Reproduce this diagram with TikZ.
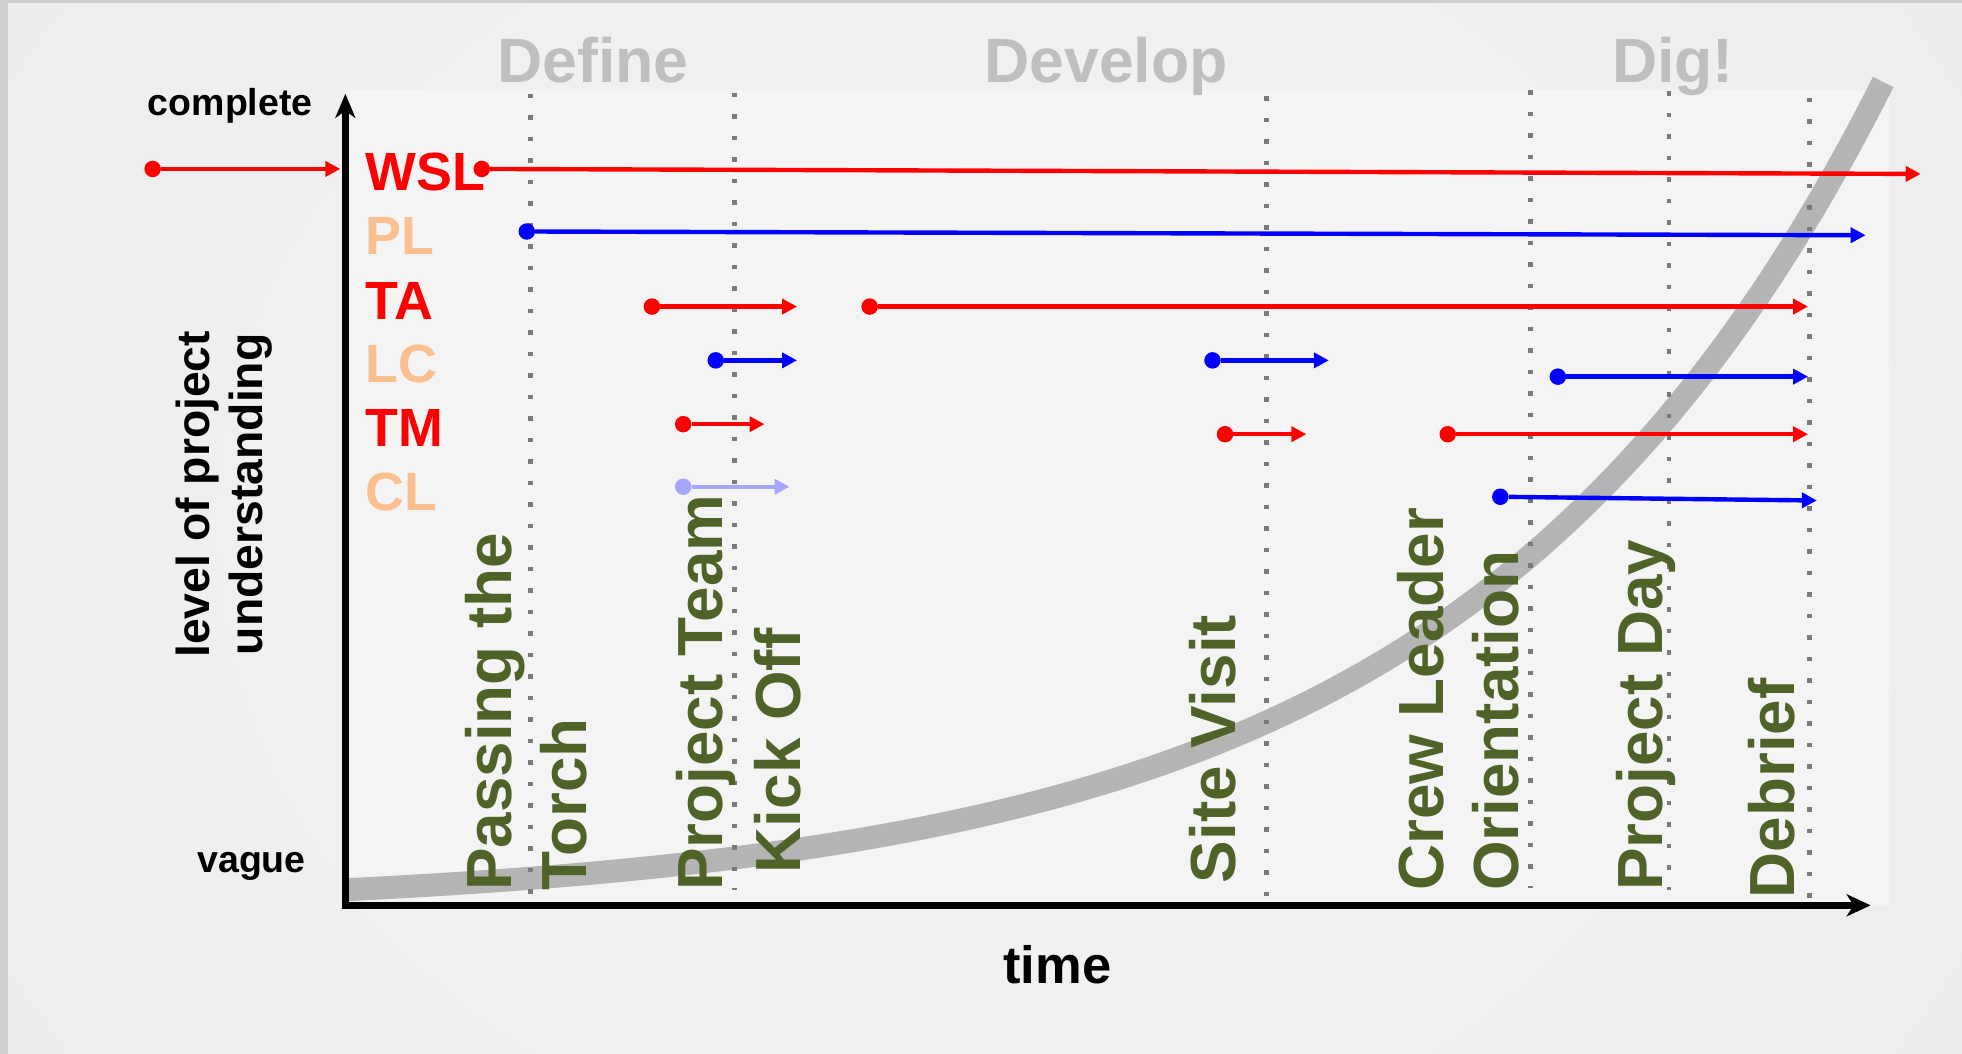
\documentclass[tikz,border=0pt]{standalone}
\usepackage{fontspec}
\setmainfont{Liberation Sans}
\usetikzlibrary{arrows.meta}
\definecolor{pred}{RGB}{255,0,0}
\definecolor{pblue}{RGB}{0,0,255}
\definecolor{plight}{RGB}{166,166,255}
\definecolor{peach}{RGB}{250,192,144}
\definecolor{evgreen}{RGB}{79,98,40}
\definecolor{phasegray}{RGB}{191,191,191}
\definecolor{guidegray}{RGB}{122,122,122}
\definecolor{curvegray}{RGB}{180,180,180}
\definecolor{bgouter}{RGB}{236,236,236}
\definecolor{bginner}{RGB}{244,244,244}
\definecolor{bgchart}{RGB}{244,244,244}
\definecolor{bgframe}{RGB}{207,207,207}
\newcommand\myfs[2]{\fontsize{#1}{#2}\selectfont\bfseries}
\begin{document}
\begin{tikzpicture}[x=1.2513pt,y=-1.2513pt,
  rowlbl/.style={anchor=base west, inner sep=0pt, font=\myfs{53.8pt}{60pt}},
  phase/.style={anchor=base, inner sep=0pt, text=phasegray, font=\myfs{62.6pt}{70pt}},
  evt/.style={rotate=90, anchor=base west, inner sep=0pt, text=evgreen, font=\myfs{63.8pt}{70pt}},
  axlbl/.style={anchor=base, inner sep=0pt, font=\myfs{37.5pt}{42pt}},
  guide/.style={draw=guidegray, line width=4.5pt, dash pattern=on 4.5pt off 17pt},
  dotnode/.style={circle, inner sep=0pt, minimum size=16.5pt},
  reddot/.style={dotnode, fill=pred},
  bluedot/.style={dotnode, fill=pblue},
  lightdot/.style={dotnode, fill=plight},
  arr/.style={line width=4.4pt, -{Triangle[length=15pt,width=15pt]}},
  redarr/.style={arr, draw=pred, fill=pred},
  bluearr/.style={arr, draw=pblue, fill=pblue},
  lightarr/.style={arr, draw=plight, fill=plight},
  axis/.style={draw=black, line width=7pt, line join=miter,
    {Stealth[length=24pt,width=20pt,inset=7pt]}-{Stealth[length=24pt,width=22pt,inset=7pt]}},
  curve/.style={draw=curvegray, line width=23pt, line cap=butt}
]
% background
\useasboundingbox (0,0) rectangle (1568,842);
\fill[bgouter] (0,0) rectangle (1568,842);
\shade[inner color=bginner, outer color=bgouter] (-300,-500) rectangle (1868,1342);
\fill[bgchart] (276,72) rectangle (1510,724);
\fill[bgframe] (0,0) rectangle (6.4,842);
\fill[bgframe] (0,0) rectangle (1568,2.4);

% knowledge curve
\draw[curve] plot[domain=278:1505, samples=150, smooth] (\x, {711-16.56*(exp(0.003*(\x-278))-1)});

% guide lines
\coordinate (g1t) at (424,75);  \coordinate (g1b) at (424,727);
\coordinate (g2t) at (587,74);  \coordinate (g2b) at (587,711);
\coordinate (g3t) at (1012,77); \coordinate (g3b) at (1012,728);
\coordinate (g4t) at (1223,72); \coordinate (g4b) at (1223,710);
\coordinate (g5t) at (1334,73); \coordinate (g5b) at (1334,711);
\coordinate (g6t) at (1446,78); \coordinate (g6b) at (1446,730);
\foreach \g in {1,...,6} \draw[guide] (g\g t) -- (g\g b);

% phase titles
\node[phase] (tdefine) at (474,66) {Define};
\node[phase] (tdevelop) at (884,66) {Develop};
\node[phase] (tdig) at (1337,66) {Dig!};

% event labels
\node[evt] (e1a) at (408.5,712) {Passing the};
\node[evt] (e1b) at (468.5,712) {Torch};
\node[evt] (e2a) at (577.5,712) {Project Team};
\node[evt] (e2b) at (640,698) {Kick Off};
\node[evt] (e3) at (987,706) {Site Visit};
\node[evt] (e4a) at (1153.5,712) {Crew Leader};
\node[evt] (e4b) at (1213.5,712) {Orientation};
\node[evt] (e5) at (1328.5,712) {Project Day};
\node[evt] (e6) at (1434.5,718) {Debrief};

% row labels
\node[rowlbl, text=pred]  (lwsl) at (292,152) {WSL};
\node[rowlbl, text=peach] (lpl)  at (292,203) {PL};
\node[rowlbl, text=pred]  (lta)  at (292,255) {TA};
\node[rowlbl, text=peach] (llc)  at (292,306) {LC};
\node[rowlbl, text=pred]  (ltm)  at (292,357) {TM};
\node[rowlbl, text=peach] (lcl)  at (292,408) {CL};

% axes
\coordinate (ytop) at (276,75);
\coordinate (origin) at (276,723.5);
\coordinate (xend) at (1495,723.5);
\draw[axis] (ytop) -- (origin) -- (xend);
\node[axlbl] (lcomplete) at (184,92) {complete};
\node[axlbl] (lvague) at (201,697) {vague};
\node[anchor=base, inner sep=0pt, font=\myfs{52.5pt}{60pt}] (ltime) at (845,786) {time};
\node[rotate=90, align=center, inner sep=0pt, font=\myfs{46.3pt}{52.6pt}] (lylab) at (179,395) {level of project\\understanding};

% participation arrows
\node[reddot] (d1) at (122,135) {};   \coordinate (a1) at (272,135);
\node[reddot] (d2) at (385,135) {};   \coordinate (a2) at (1535,139);
\node[bluedot] (d3) at (421,185) {};  \coordinate (a3) at (1491,188);
\node[reddot] (d4) at (521,245) {};   \coordinate (a4) at (637,245);
\node[reddot] (d5) at (695,245) {};   \coordinate (a5) at (1445,245);
\node[bluedot] (d6) at (572,288) {};  \coordinate (a6) at (637,288);
\node[bluedot] (d7) at (969,288) {};  \coordinate (a7) at (1062,288);
\node[bluedot] (d8) at (1245,301) {}; \coordinate (a8) at (1445,301);
\node[reddot] (d9) at (546,339) {};   \coordinate (a9) at (611,339);
\node[reddot] (d10) at (979,347) {};  \coordinate (a10) at (1044,347);
\node[reddot] (d11) at (1157,347) {}; \coordinate (a11) at (1445,347);
\node[lightdot] (d12) at (546,389) {}; \coordinate (a12) at (631,389);
\node[bluedot] (d13) at (1199,397) {}; \coordinate (a13) at (1452,400);
\draw[redarr] (d1) -- (a1);
\draw[redarr] (d2) -- (a2);
\draw[bluearr] (d3) -- (a3);
\draw[redarr] (d4) -- (a4);
\draw[redarr] (d5) -- (a5);
\draw[bluearr] (d6) -- (a6);
\draw[bluearr] (d7) -- (a7);
\draw[bluearr] (d8) -- (a8);
\draw[redarr] (d9) -- (a9);
\draw[redarr] (d10) -- (a10);
\draw[redarr] (d11) -- (a11);
\draw[lightarr] (d12) -- (a12);
\draw[bluearr] (d13) -- (a13);
\end{tikzpicture}
\end{document}
